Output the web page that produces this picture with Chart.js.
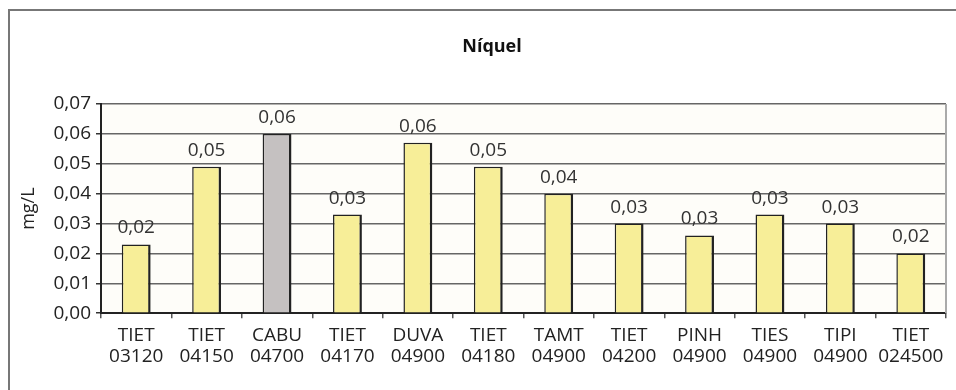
<!DOCTYPE html>
<html>
<head>
<meta charset="utf-8">
<script src="https://cdn.jsdelivr.net/npm/chart.js@4.4.1/dist/chart.umd.min.js"></script>
<style>
  html, body { margin: 0; padding: 0; background: #fff; overflow: hidden; }
  #frame {
    position: absolute; left: 8px; top: 9px; width: 1000px; height: 420px;
    border-left: 2px solid #777; border-top: 2px solid #777;
  }
  #wrap { position: absolute; left: 0; top: 0; width: 956px; height: 390px; }
</style>
</head>
<body>
<div id="frame"></div>
<div id="wrap"><canvas id="niquelChart" width="956" height="390"></canvas></div>
<script>
// pontos de amostragem (duas linhas: sigla / código)
const stations = [
    ['TIET', '03120'], ['TIET', '04150'], ['CABU', '04700'], ['TIET', '04170'],
    ['DUVA', '04900'], ['TIET', '04180'], ['TAMT', '04900'], ['TIET', '04200'],
    ['PINH', '04900'], ['TIES', '04900'], ['TIPI', '04900'], ['TIET', '024500']
];
// concentração de níquel (mg/L)
const nickel = [0.023, 0.049, 0.060, 0.033, 0.057, 0.049, 0.040, 0.030, 0.026, 0.033, 0.030, 0.020];
const yTicks = [0, 0.01, 0.02, 0.03, 0.04, 0.05, 0.06, 0.07];
const chartTitle = 'Níquel';

const fontFamily = '"Open Sans", "DejaVu Sans", sans-serif';
const barColors = nickel.map((v, i) => i === 2 ? '#c5c1c1' : '#f7ee98');

const fmt = v => v.toFixed(2).replace('.', ',');

// value labels above each bar
const valueLabels = {
    id: 'valueLabels',
    afterDatasetsDraw(chart) {
        const ctx = chart.ctx;
        const meta = chart.getDatasetMeta(0);
        ctx.save();
        ctx.font = '19px ' + fontFamily;
        ctx.fillStyle = '#333';
        ctx.textAlign = 'center';
        ctx.textBaseline = 'alphabetic';
        meta.data.forEach((bar, i) => {
            ctx.fillText(fmt(nickel[i]), bar.x, bar.y - 11);
        });
        ctx.restore();
    }
};

// plot background, right border and the title (centred on the outer frame)
const plotFrame = {
    id: 'plotFrame',
    beforeDraw(chart) {
        const { ctx, chartArea: a } = chart;
        ctx.save();
        ctx.fillStyle = '#fefdf9';
        ctx.fillRect(a.left, a.top, a.right - a.left, a.bottom - a.top);
        ctx.restore();
    },
    afterDraw(chart) {
        const { ctx, chartArea: a } = chart;
        ctx.save();
        ctx.strokeStyle = '#aaa';
        ctx.lineWidth = 2;
        ctx.beginPath();
        ctx.moveTo(a.right, a.top);
        ctx.lineTo(a.right, a.bottom);
        ctx.stroke();

        ctx.font = 'bold 18px ' + fontFamily;
        ctx.fillStyle = '#111';
        ctx.textAlign = 'center';
        ctx.textBaseline = 'middle';
        ctx.fillText(chartTitle, 492, 47);
        ctx.restore();
    }
};

new Chart(document.getElementById('niquelChart').getContext('2d'), {
    type: 'bar',
    data: {
        labels: stations,
        datasets: [{
            data: nickel,
            backgroundColor: barColors,
            borderColor: '#222',
            borderWidth: { left: 1.5, right: 2.5, top: 1.5, bottom: 0 },
            borderSkipped: 'bottom',
            barPercentage: 0.41,
            categoryPercentage: 1.0
        }]
    },
    options: {
        responsive: false,
        animation: false,
        layout: { padding: { left: 18, right: 10, top: 104, bottom: 16 } },
        plugins: {
            legend: { display: false },
            tooltip: { enabled: false },
            title: { display: false }
        },
        scales: {
            x: {
                offset: true,
                grid: {
                    offset: true,
                    drawOnChartArea: false,
                    drawTicks: true,
                    tickLength: 5,
                    color: '#555',
                    lineWidth: 1.5
                },
                border: { color: '#222', width: 2 },
                ticks: {
                    color: '#222',
                    font: { family: fontFamily, size: 19, lineHeight: 1.1 },
                    padding: 7,
                    maxRotation: 0,
                    autoSkip: false
                }
            },
            y: {
                min: 0,
                max: 0.07,
                afterBuildTicks: scale => {
                    scale.ticks = yTicks.map(v => ({ value: v }));
                },
                afterFit: scale => { scale.width = 83; },
                grid: {
                    color: '#666',
                    lineWidth: 1.5,
                    drawTicks: true,
                    tickLength: 5,
                    tickColor: '#333'
                },
                border: { color: '#222', width: 2 },
                ticks: {
                    color: '#222',
                    font: { family: fontFamily, size: 19 },
                    padding: 5,
                    callback: v => fmt(v)
                },
                title: {
                    display: true,
                    text: 'mg/L',
                    color: '#222',
                    font: { family: fontFamily, size: 18 },
                    padding: { top: 0, bottom: 2 }
                }
            }
        }
    },
    plugins: [plotFrame, valueLabels]
});
</script>
</body>
</html>
